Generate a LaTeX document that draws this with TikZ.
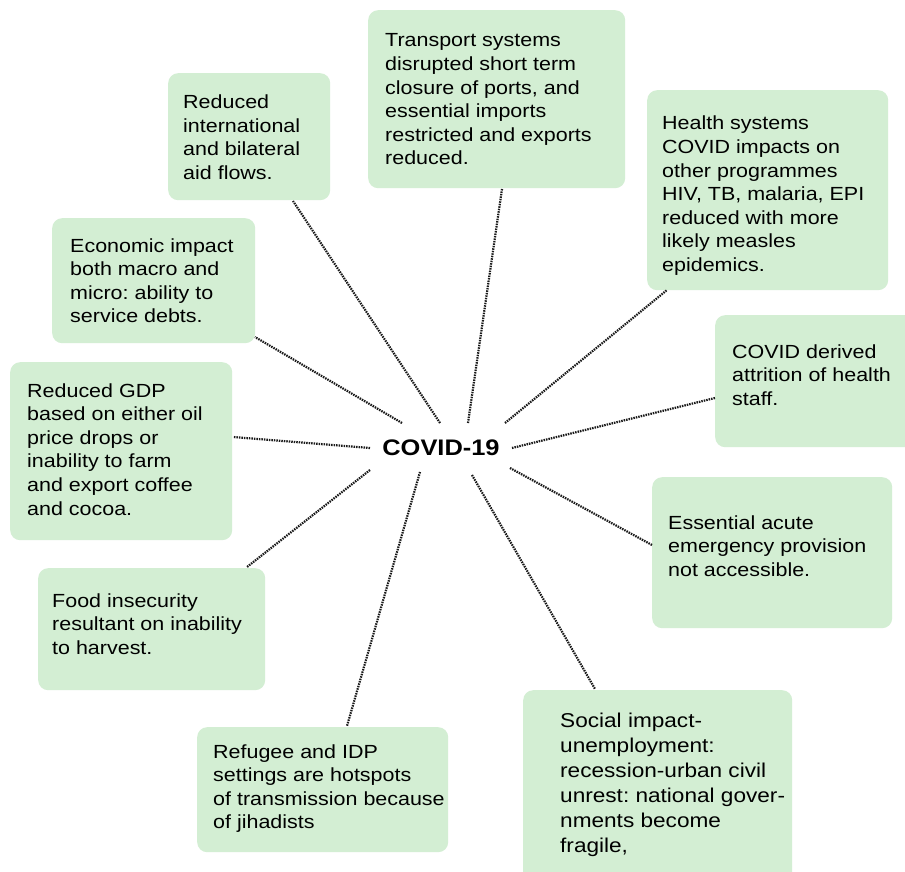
\documentclass[tikz,border=0pt]{standalone}
\usepackage{fontspec}
\setmainfont{Liberation Sans}[FakeStretch=1.13]
\frenchspacing
\definecolor{boxgreen}{RGB}{211,238,211}
\tikzset{
  x=1pt, y=-1pt,
  box/.style={fill=boxgreen, rounded corners=10pt, draw=none, inner sep=0pt, anchor=north west},
  txt/.style={anchor=base west, inner sep=0pt, text=black},
  link/.style={line width=2.2pt, dash pattern=on 1.5pt off 1pt, draw=black!90},
  hub/.style={font=\fontsize{22.5}{26}\selectfont\bfseries, inner sep=0pt, text=black}
}
\newcommand{\boxtext}[2][19]{\parbox[t]{300pt}{\fontsize{#1}{23.6}\selectfont\raggedright\frenchspacing #2}}
\newcommand{\boxtextL}[1]{\parbox[t]{300pt}{\fontsize{20}{25}\selectfont\raggedright\frenchspacing #1}}
\begin{document}
\begin{tikzpicture}
\useasboundingbox (0,0) rectangle (905,872);
\fill[white] (0,0) rectangle (905,872);
% boxes
\node[box, minimum width=162pt, minimum height=127pt] (b1) at (168,73) {};
\node[box, minimum width=257pt, minimum height=178pt] (b2) at (368,10) {};
\node[box, minimum width=241pt, minimum height=200pt] (b3) at (647,90) {};
\node[box, minimum width=203pt, minimum height=125pt] (b4) at (52,218) {};
\node[box, minimum width=200pt, minimum height=132pt] (b5) at (715,315) {};
\node[box, minimum width=222pt, minimum height=178pt] (b6) at (10,362) {};
\node[box, minimum width=240pt, minimum height=151pt] (b7) at (652,477) {};
\node[box, minimum width=227pt, minimum height=122pt] (b8) at (38,568) {};
\node[box, minimum width=251pt, minimum height=125pt] (b9) at (197,727) {};
\node[box, minimum width=269pt, minimum height=195pt] (b10) at (523,690) {};
% texts
\node[txt] (t1) at (183,108.5) {\boxtext{Reduced\\international\\and bilateral\\aid flows.}};
\node[txt] (t2) at (385,47) {\boxtext{Transport systems\\disrupted short term\\closure of ports, and\\essential imports\\restricted and exports\\reduced.}};
\node[txt] (t3) at (662,130) {\boxtext{Health systems\\COVID impacts on\\other programmes\\HIV, TB, malaria, EPI\\reduced with more\\likely measles\\epidemics.}};
\node[txt] (t4) at (70,252) {\boxtext{Economic impact\\both macro and\\micro: ability to\\service debts.}};
\node[txt] (t5) at (732,358) {\boxtext{COVID derived\\attrition of health\\staff.}};
\node[txt] (t6) at (27,397) {\boxtext{Reduced GDP\\based on either oil\\price drops or\\inability to farm\\and export coffee\\and cocoa.}};
\node[txt] (t7) at (668,529) {\boxtext{Essential acute\\emergency provision\\not accessible.}};
\node[txt] (t8) at (52,607) {\boxtext{Food insecurity\\resultant on inability\\to harvest.}};
\node[txt] (t9) at (213,758) {\boxtext{Refugee and IDP\\settings are hotspots\\of transmission because\\of jihadists}};
\node[txt] (t10) at (560,727) {\boxtextL{Social impact-\\unemployment:\\recession-urban civil\\unrest: national gover-\\nments become\\fragile,}};
% hub
\node[hub] (covid) at (441,448) {COVID-19};
% connector ends
\coordinate (c1) at (440,423);  \coordinate (e1) at (293,201);
\coordinate (c2) at (468,423);  \coordinate (e2) at (502,189);
\coordinate (c3) at (505,423);  \coordinate (e3) at (667,290);
\coordinate (c4) at (402,423);  \coordinate (e4) at (255,337);
\coordinate (c5) at (512,448);  \coordinate (e5) at (715,398);
\coordinate (c6) at (370,448);  \coordinate (e6) at (233,437);
\coordinate (c7) at (510,468);  \coordinate (e7) at (652,545);
\coordinate (c8) at (370,470);  \coordinate (e8) at (247,567);
\coordinate (c9) at (420,472);  \coordinate (e9) at (347,726);
\coordinate (c10) at (472,475); \coordinate (e10) at (595,689);
\foreach \i in {1,...,10} {\draw[link] (c\i) -- (e\i);}
\end{tikzpicture}
\end{document}
